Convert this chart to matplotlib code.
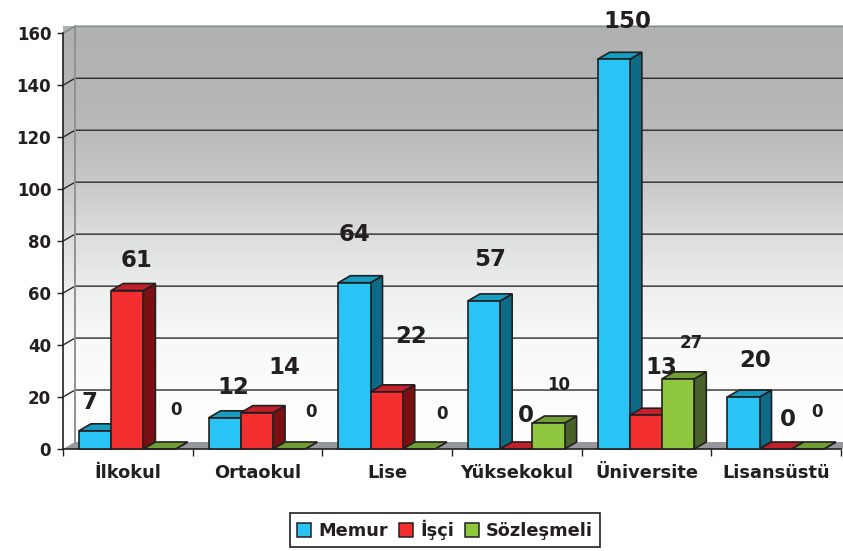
import numpy as np
import matplotlib
matplotlib.use("Agg")
import matplotlib.pyplot as plt
from matplotlib.patches import Polygon, Patch

# Values
categories = ["İlkokul", "Ortaokul", "Lise", "Yüksekokul", "Üniversite", "Lisansüstü"]
series_names = ["Memur", "İşçi", "Sözleşmeli"]
memur = [7, 12, 64, 57, 150, 20]
isci = [61, 14, 22, 0, 13, 0]
sozlesmeli = [0, 0, 0, 10, 27, 0]
y_ticks = [0, 20, 40, 60, 80, 100, 120, 140, 160]

# Front, top and side colours of each series
face_colors = ["#29C4F5", "#F32E2E", "#8FC73E"]
top_colors = ["#169DC0", "#C2202A", "#6E9E35"]
side_colors = ["#0E6B87", "#7A1012", "#4A6229"]
wall_colors = ["#FFFFFF", "#FCFCFC", "#F7F8F8", "#ECEEEE", "#DBDCDC",
               "#C7C8C8", "#B9BBBB", "#B3B5B5", "#B0B2B2"]

# Label offsets from the top of each bar, in pixels (dx, dy)
label_offsets = [
    [(-6, 28), (9, 30), (16, 39)],
    [(9, 30), (27, 45), (22, 37)],
    [(0, 48), (25, 55), (23, 35)],
    [(6, 41), (10, 34), (10, 38)],
    [(14, 38), (15, 48), (13, 36)],
    [(12, 37), (12, 29), (9, 37)],
]
small_labels = [(0, 2), (1, 2), (2, 2), (3, 2), (4, 2), (5, 2)]

W, H = 843, 551
plt.rcParams["font.family"] = ["DejaVu Sans"]
plt.rcParams["font.weight"] = "bold"
dark = "#231F20"

fig = plt.figure(figsize=(W / 100, H / 100), dpi=100)
left, right, bottom, top = 63, 841, 449, 33.3
ax = fig.add_axes([left / W, 1 - bottom / H, (right - left) / W, (bottom - top) / H])
ax.set_xlim(0, 6)
ax.set_ylim(0, 160)

# 3D depth of the box, in data units
ddx = 12 / ((right - left) / 6)
ddy = 7 / ((bottom - top) / 160)
bar_w = 0.2485
bar_start = 0.123
xmax = 6.1

# Back wall and left wall with a grey to white gradient
grad = np.linspace(0, 1, 256).reshape(-1, 1)
cmap = matplotlib.colors.LinearSegmentedColormap.from_list("wall", wall_colors)
ax.imshow(grad, origin="lower", aspect="auto", cmap=cmap, zorder=1,
          extent=(ddx, xmax, ddy, 160 + ddy), clip_on=False)
wall = ax.imshow(grad, origin="lower", aspect="auto", cmap=cmap, zorder=1,
                 extent=(0, ddx, 0, 160 + ddy), clip_on=False)
wall.set_clip_path(Polygon([(0, 0), (ddx, ddy), (ddx, 160 + ddy), (0, 160)],
                           transform=ax.transData))
ax.set_xlim(0, 6)
ax.set_ylim(0, 160)

# Floor
ax.add_patch(Polygon([(0, 0), (ddx, ddy), (xmax, ddy), (xmax, 0)], closed=True,
                     facecolor="#96989B", edgecolor="none", zorder=2, clip_on=False))

# Grid lines on the back wall and along the left wall
for v in y_ticks[1:-1]:
    ax.plot([0, ddx, xmax], [v, v + ddy, v + ddy], color="#2A2A2A", lw=1.0, zorder=2, clip_on=False)
ax.plot([0, ddx, xmax], [160, 160 + ddy, 160 + ddy], color="#8A8C8C", lw=1.2, zorder=2, clip_on=False)
ax.plot([ddx, ddx], [ddy, 160 + ddy], color="#8F9192", lw=1.4, zorder=2, clip_on=False)

# Bars: front face through ax.bar, top and side as polygons
all_values = [memur, isci, sozlesmeli]
z = 3
for i in range(len(categories)):
    for j, values in enumerate(all_values):
        v = values[i]
        x0 = i + bar_start + j * bar_w
        x1 = x0 + bar_w
        ax.add_patch(Polygon([(x1, 0), (x1 + ddx, ddy), (x1 + ddx, v + ddy), (x1, v)],
                             facecolor=side_colors[j], edgecolor=dark, lw=1.2, zorder=z, clip_on=False))
        ax.add_patch(Polygon([(x0, v), (x0 + ddx, v + ddy), (x1 + ddx, v + ddy), (x1, v)],
                             facecolor=top_colors[j], edgecolor=dark, lw=1.2, zorder=z, clip_on=False))
        ax.bar(x0, v, width=bar_w, align="edge", color=face_colors[j], edgecolor=dark,
               lw=1.2, zorder=z + 0.5, clip_on=False)
        z += 1

# Value labels
for i in range(len(categories)):
    for j, values in enumerate(all_values):
        v = values[i]
        dx, dy = label_offsets[i][j]
        size = 12 if (i, j) in small_labels else 16.5
        ax.annotate(str(v), (i + bar_start + (j + 0.5) * bar_w, v),
                    xytext=(dx * 0.72, dy * 0.72), textcoords="offset points",
                    ha="center", va="center", fontsize=size, color=dark,
                    annotation_clip=False, zorder=100)

# Axes and ticks
for name in ["top", "right"]:
    ax.spines[name].set_visible(False)
for name in ["left", "bottom"]:
    ax.spines[name].set_color(dark)
    ax.spines[name].set_linewidth(1.2)
    ax.spines[name].set_zorder(2.5)
ax.set_yticks(y_ticks)
ax.set_yticklabels([str(v) for v in y_ticks], fontsize=12, color=dark)
ax.tick_params(axis="y", length=4.5, width=1, color=dark, pad=4)
ax.set_xticks(range(7))
ax.set_xticklabels([""] * 7)
ax.tick_params(axis="x", length=5, width=1, color=dark)
for i, name in enumerate(categories):
    ax.annotate(name, (i + 0.5, 0), xytext=(0, -24 * 0.72), textcoords="offset points",
                ha="center", va="center", fontsize=12.8, color=dark, annotation_clip=False)

# Legend
handles = [Patch(facecolor=c, edgecolor=dark, lw=1.1) for c in face_colors]
leg = fig.legend(handles, series_names, loc="center", bbox_to_anchor=(445 / W, 1 - 530 / H),
                 ncol=3, fontsize=12.8, frameon=True, fancybox=False, edgecolor=dark,
                 framealpha=1, handlelength=0.8, handleheight=0.8, handletextpad=0.4,
                 columnspacing=0.6, borderpad=0.4, borderaxespad=0)
leg.get_frame().set_linewidth(1.2)
for t in leg.get_texts():
    t.set_color(dark)

fig.savefig("out.png", dpi=100)
